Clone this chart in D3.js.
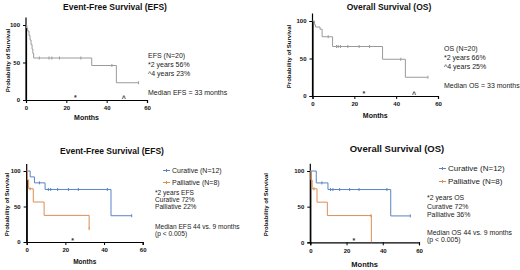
<!DOCTYPE html>
<html>
<head>
  <script src="https://d3js.org/d3.v7.min.js"></script>
  <style>
    body { margin: 0; background: #fff; }
    text { font-family: "Liberation Sans", Arial, sans-serif; }
  </style>
</head>
<body>
<svg id="chart" width="520" height="270"></svg>
<script>
// ---- data (months, % survival) ----
const xTicks = [0, 20, 40, 60];
const yTicks = [0, 50, 100];

const efsTime = [0.3, 0.8, 1.5, 2.0, 2.5, 3.0, 3.4, 3.8, 32.6, 44.8];
const efsSurv = [96, 92, 86, 80, 74, 68, 62, 56, 46, 23];
const efsCensor = [6.6, 11.4, 12.8, 16.6, 27.2, 42.6, 55.8];

const osTime = [1.0, 1.4, 3.6, 4.6, 9.6, 33.5, 44.4];
const osSurv = [95, 92, 89, 79, 66, 49, 25];
const osCensor = [7.5, 11.5, 12.3, 13.4, 16.9, 22.3, 27.3, 42.2, 55.2];

const efsCurTime = [1.8, 4.0, 9.5, 43.6];
const efsCurSurv = [91.7, 83.3, 74, 37];
const efsCurCensor = [6.6, 11.2, 12.4, 16, 21.6, 26.7, 41.7, 54.3];
const efsPalTime = [0.4, 1.0, 3.4, 9.0, 32.3];
const efsPalSurv = [87.5, 75, 56.3, 37.5, 18.8];
const efsPalCensor = [1.8, 32.3];

const osCurTime = [3.3, 9.75, 44.4];
const osCurSurv = [83.3, 74, 37];
const osCurCensor = [6.4, 11.2, 12.5, 16.2, 21.7, 26.9, 42.3, 55.2];
const osPalTime = [0.3, 1.0, 3.7, 9.4, 33.7];
const osPalSurv = [87.5, 75, 56.3, 37.5, 0];
const osPalCensor = [2.0, 33.5];

const grey = "#9a9a9a", blue = "#5a84c2", orange = "#dc8d55";

const svg = d3.select("#chart");

function drawPanel(p) {
  const x = d3.scaleLinear().domain([0, 60]).range([p.x0, p.x1]);
  const y = d3.scaleLinear().domain([0, 100]).range([p.y0, p.y100]);
  const g = svg.append("g");

  // title
  g.append("text").attr("x", p.tx).attr("y", p.ty).attr("text-anchor", "middle")
    .attr("font-weight", "bold").attr("font-size", p.tsize).attr("fill", "#111").text(p.title);

  // axes
  const xa = g.append("g").attr("transform", `translate(0,${p.y0})`)
    .call(d3.axisBottom(x).tickValues(d3.range(0, 61, 2)).tickSize(2).tickFormat(""));
  xa.call(d3.axisBottom(x).tickValues(xTicks).tickSize(3).tickFormat(d3.format("d")));
  const ya = g.append("g").attr("transform", `translate(${p.x0},0)`)
    .call(d3.axisLeft(y).tickValues(d3.range(0, 106, 5)).tickSize(2).tickFormat(""));
  ya.call(d3.axisLeft(y).tickValues(yTicks).tickSize(3));
  g.append("line").attr("x1", p.x0).attr("x2", p.x0).attr("y1", p.y0).attr("y2", y(110))
    .attr("stroke", "#000").attr("stroke-width", 1.2);
  g.selectAll(".domain").attr("stroke", "#000").attr("stroke-width", 1.2);
  g.selectAll(".tick line").attr("stroke", "#000");
  g.selectAll(".tick text").attr("font-size", 6).attr("font-weight", "bold").attr("fill", "#111")
    .attr("font-family", "Liberation Sans, Arial, sans-serif");

  g.append("text").attr("transform", `translate(${p.ylx},${(p.y0 + p.y100) / 2 - 2}) rotate(-90)`)
    .attr("text-anchor", "middle").attr("font-size", 6).attr("font-weight", "bold")
    .attr("fill", "#111").text("Probability of Survival");
  g.append("text").attr("x", (p.x0 + p.x1) / 2).attr("y", p.xly).attr("text-anchor", "middle")
    .attr("font-size", p.xlsize).attr("font-weight", "bold").attr("fill", "#111").text("Months");

  // curves
  p.series.forEach(s => {
    const pts = [[0, 100]].concat(s.time.map((t, i) => [t, s.surv[i]]));
    pts.push([s.end, s.surv[s.surv.length - 1]]);
    g.append("path").attr("d", d3.line().x(d => x(d[0])).y(d => y(d[1])).curve(d3.curveStepAfter)(pts))
      .attr("fill", "none").attr("stroke", s.color).attr("stroke-width", 1);
    const at = t => { let v = 100; s.time.forEach((tt, i) => { if (tt <= t) v = s.surv[i]; }); return v; };
    g.selectAll(null).data(s.censor).enter().append("line")
      .attr("x1", d => x(d)).attr("x2", d => x(d))
      .attr("y1", d => y(at(d)) - 1.5).attr("y2", d => y(at(d)) + 1.5)
      .attr("stroke", s.color).attr("stroke-width", 1);
  });

  // 2- and 4-year marks
  p.marks.forEach(m => {
    g.append("text").attr("x", x(m.t)).attr("y", y(m.v) + 3).attr("text-anchor", "middle")
      .attr("font-size", 7).attr("font-weight", "bold").attr("fill", "#333").text(m.s);
  });

  // legend entries
  (p.legend || []).forEach(l => {
    g.append("line").attr("x1", l.x - 9).attr("x2", l.x - 2).attr("y1", l.y - 2.5).attr("y2", l.y - 2.5)
      .attr("stroke", l.color).attr("stroke-width", 1);
    g.append("line").attr("x1", l.x - 5.5).attr("x2", l.x - 5.5).attr("y1", l.y - 4).attr("y2", l.y - 1)
      .attr("stroke", l.color).attr("stroke-width", 1);
    g.append("text").attr("x", l.x).attr("y", l.y).attr("font-size", p.lsize).attr("fill", "#222").text(l.text);
  });
  p.notes.forEach(n => {
    g.append("text").attr("x", p.nx).attr("y", n[1]).attr("font-size", p.nsize).attr("fill", "#222").text(n[0]);
  });
}

drawPanel({
  title: "Event-Free Survival (EFS)", tx: 115, ty: 10, tsize: 8.5,
  x0: 26, x1: 147, y0: 100, y100: 25, ylx: 10, xly: 120, xlsize: 7,
  series: [{ time: efsTime, surv: efsSurv, censor: efsCensor, end: 55.8, color: grey }],
  marks: [{ t: 24.5, v: 4, s: "*" }, { t: 48.5, v: 3, s: "^" }],
  nx: 148, nsize: 7,
  notes: [["EFS (N=20)", 58], ["*2 years 56%", 67], ["^4 years 23%", 76], ["Median EFS = 33 months", 95]]
});

drawPanel({
  title: "Overall Survival (OS)", tx: 389, ty: 10, tsize: 8.5,
  x0: 312.5, x1: 438, y0: 96, y100: 21, ylx: 291, xly: 118, xlsize: 7,
  series: [{ time: osTime, surv: osSurv, censor: osCensor, end: 55.2, color: grey }],
  marks: [{ t: 24.5, v: 4, s: "*" }, { t: 48.5, v: 3, s: "^" }],
  nx: 444, nsize: 7,
  notes: [["OS (N=20)", 51], ["*2 years 66%", 60], ["^4 years 25%", 69], ["Median OS = 33 months", 88]]
});

drawPanel({
  title: "Event-Free Survival (EFS)", tx: 112, ty: 154, tsize: 8.5,
  x0: 26.7, x1: 142.7, y0: 242, y100: 171, ylx: 9, xly: 264, xlsize: 6.5,
  series: [
    { time: efsCurTime, surv: efsCurSurv, censor: efsCurCensor, end: 54.3, color: blue },
    { time: efsPalTime, surv: efsPalSurv, censor: efsPalCensor, end: 32.3, color: orange }
  ],
  marks: [{ t: 23.8, v: 3, s: "*" }],
  lsize: 7,
  legend: [{ x: 172, y: 173, color: blue, text: "Curative (N=12)" },
           { x: 172, y: 185, color: orange, text: "Palliative (N=8)" }],
  nx: 155, nsize: 6.6,
  notes: [["*2 years EFS", 195], ["Curative 72%", 202], ["Palliative 22%", 209],
          ["Median EFS 44 vs. 9 months", 229], ["(p < 0.005)", 236]]
});

drawPanel({
  title: "Overall Survival (OS)", tx: 397, ty: 152, tsize: 9.5,
  x0: 310.3, x1: 419, y0: 242.3, y100: 171, ylx: 268, xly: 267, xlsize: 7.5,
  series: [
    { time: osCurTime, surv: osCurSurv, censor: osCurCensor, end: 55.2, color: blue },
    { time: osPalTime, surv: osPalSurv, censor: osPalCensor, end: 33.7, color: orange }
  ],
  marks: [{ t: 24, v: 3, s: "*" }],
  lsize: 8,
  legend: [{ x: 448, y: 171, color: blue, text: "Curative (N=12)" },
           { x: 448, y: 184, color: orange, text: "Palliative (N=8)" }],
  nx: 427, nsize: 6.9,
  notes: [["*2 years OS", 200], ["Curative 72%", 208.5], ["Palliative 36%", 217],
          ["Median OS  44 vs. 9 months", 235], ["(p < 0.005)", 242]]
});
</script>
</body>
</html>
